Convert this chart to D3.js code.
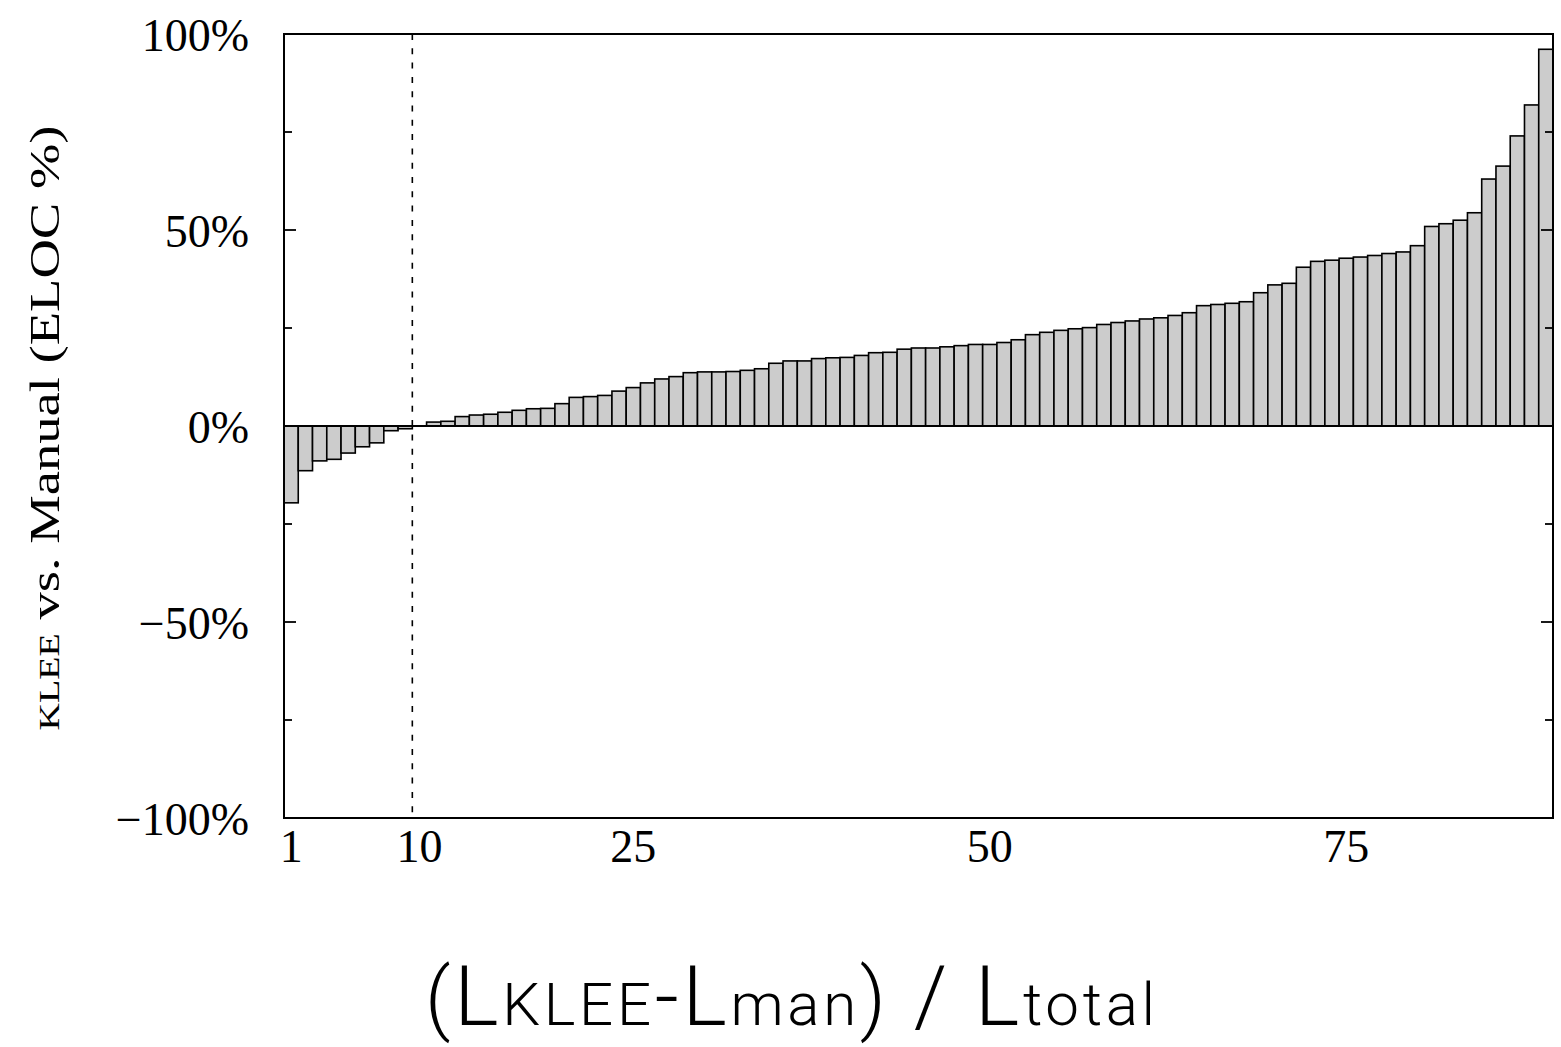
<!DOCTYPE html>
<html>
<head>
<meta charset="utf-8">
<script src="https://cdn.jsdelivr.net/npm/d3@7"></script>
<style>
  html, body { margin: 0; padding: 0; background: #ffffff; }
  svg { display: block; }
</style>
</head>
<body>
<svg id="chart" width="1561" height="1047"></svg>
<script>
// ---- data ----
const values = [
  -19.6, -11.4, -8.9, -8.5, -6.9, -5.3, -4.3, -1.2, -0.7, 0.0,
  1.0, 1.2, 2.4, 2.8, 3.0, 3.5, 4.0, 4.4, 4.5, 5.7,
  7.3, 7.5, 7.8, 8.9, 9.8, 11.0, 12.0, 12.6, 13.6, 13.8,
  13.8, 13.9, 14.2, 14.6, 16.0, 16.6, 16.6, 17.2, 17.4, 17.5,
  18.0, 18.7, 18.8, 19.6, 19.9, 19.9, 20.2, 20.5, 20.8, 20.8,
  21.3, 22.0, 23.3, 23.9, 24.4, 24.8, 25.1, 25.9, 26.4, 26.8,
  27.3, 27.6, 28.2, 28.9, 30.7, 31.0, 31.3, 31.7, 34.0, 36.0,
  36.4, 40.5, 42.0, 42.3, 42.8, 43.1, 43.5, 44.0, 44.4, 46.0,
  50.9, 51.6, 52.5, 54.4, 63.0, 66.3, 74.0, 81.9, 96.1
];
const categories = values.map((v, i) => i + 1);
const xTickValues = [1, 10, 25, 50, 75];
const yMajorTicks = [-100, -50, 0, 50, 100];
const yMinorTicks = [-75, -25, 25, 75];
const yTickLabels = ["\u2212100%", "\u221250%", "0%", "50%", "100%"];
const dividerAt = 9.5;

(function () {
// ---- layout ----
const svg = d3.select("#chart");
const pl = 284, pr = 1553, pt = 34, pb = 818;

const x = d3.scaleLinear().domain([0.5, categories.length + 0.5]).range([pl, pr]);
const y = d3.scaleLinear().domain([-100, 100]).range([pb, pt]);

const serif = "'Liberation Serif', 'DejaVu Serif', serif";

// bars
svg.append("g").selectAll("rect")
  .data(categories)
  .join("rect")
  .attr("x", d => x(d - 0.5))
  .attr("width", d => x(d + 0.5) - x(d - 0.5))
  .attr("y", (d, i) => y(Math.max(0, values[i])))
  .attr("height", (d, i) => Math.abs(y(values[i]) - y(0)))
  .attr("fill", "#cccccc")
  .attr("stroke", "#000")
  .attr("stroke-width", 1.6);

// zero line
svg.append("line")
  .attr("x1", pl).attr("x2", pr)
  .attr("y1", y(0)).attr("y2", y(0))
  .attr("stroke", "#000").attr("stroke-width", 2);

// dashed divider
svg.append("line")
  .attr("x1", x(dividerAt)).attr("x2", x(dividerAt))
  .attr("y1", pt).attr("y2", pb)
  .attr("stroke", "#000").attr("stroke-width", 1.6)
  .attr("stroke-dasharray", "6,8.3");

// y ticks (left and mirrored right)
const tickG = svg.append("g").attr("stroke", "#000").attr("stroke-width", 1.8);
yMajorTicks.forEach(t => {
  tickG.append("line").attr("x1", pl).attr("x2", pl + 12).attr("y1", y(t)).attr("y2", y(t));
  tickG.append("line").attr("x1", pr).attr("x2", pr - 12).attr("y1", y(t)).attr("y2", y(t));
});
yMinorTicks.forEach(t => {
  tickG.append("line").attr("x1", pl).attr("x2", pl + 8).attr("y1", y(t)).attr("y2", y(t));
  tickG.append("line").attr("x1", pr).attr("x2", pr - 8).attr("y1", y(t)).attr("y2", y(t));
});

// frame
svg.append("rect")
  .attr("x", pl).attr("y", pt)
  .attr("width", pr - pl).attr("height", pb - pt)
  .attr("fill", "none").attr("stroke", "#000").attr("stroke-width", 2);

// y tick labels
svg.append("g").selectAll("text")
  .data(yMajorTicks)
  .join("text")
  .attr("x", 249)
  .attr("y", d => y(d))
  .attr("dy", "0.36em")
  .attr("text-anchor", "end")
  .attr("font-family", serif)
  .attr("font-size", 46)
  .attr("fill", "#000")
  .text((d, i) => yTickLabels[i]);

// x tick labels
svg.append("g").selectAll("text")
  .data(xTickValues)
  .join("text")
  .attr("x", d => x(d))
  .attr("y", 862)
  .attr("text-anchor", "middle")
  .attr("font-family", serif)
  .attr("font-size", 46)
  .attr("fill", "#000")
  .text(d => d);

// y title
const yt = svg.append("text")
  .attr("transform", "translate(59,428) rotate(-90)")
  .attr("text-anchor", "middle")
  .attr("font-family", serif)
  .attr("font-size", 43)
  .attr("textLength", 605)
  .attr("lengthAdjust", "spacingAndGlyphs")
  .attr("fill", "#000");
yt.append("tspan").style("font-variant", "small-caps").text("klee");
yt.append("tspan").text(" vs. Manual (ELOC %)");

// x title
const sans = "Roboto, 'Liberation Sans', sans-serif";
const xt = svg.append("text")
  .attr("x", 790).attr("y", 1025)
  .attr("text-anchor", "middle")
  .attr("font-family", sans)
  .attr("font-weight", 300)
  .attr("font-size", 84)
  .attr("textLength", 730)
  .attr("lengthAdjust", "spacing")
  .attr("fill", "#000");
xt.append("tspan").attr("font-size", 80).text("(");
xt.append("tspan").text("L");
xt.append("tspan").attr("font-size", 60).text("KLEE");
xt.append("tspan").text("-L");
xt.append("tspan").attr("font-size", 60).text("man");
xt.append("tspan").attr("font-size", 80).text(")");
xt.append("tspan").text(" / L");
xt.append("tspan").attr("font-size", 60).text("total");
})();
</script>
</body>
</html>
